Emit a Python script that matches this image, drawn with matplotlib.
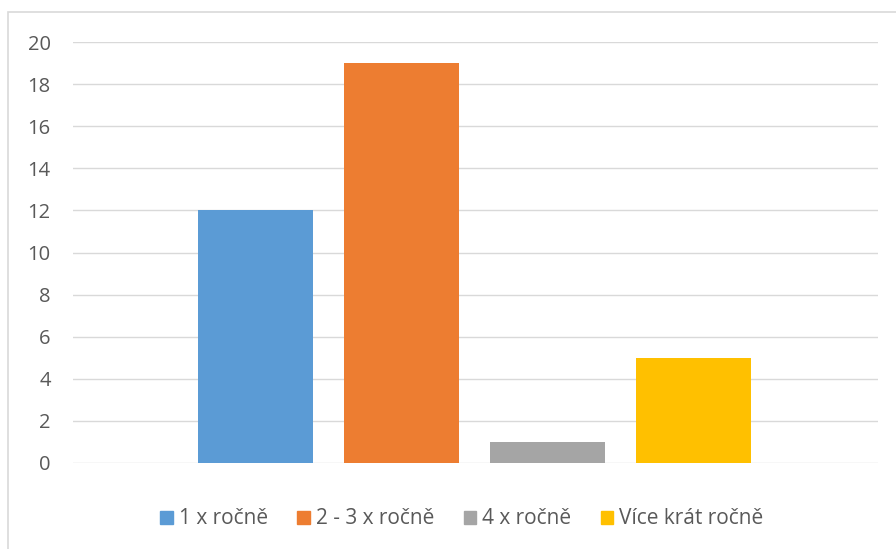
import matplotlib.pyplot as plt
from matplotlib.patches import Rectangle, Patch

labels = ['1 x ročně', '2 - 3 x ročně', '4 x ročně', 'Více krát ročně']
values = [12, 19, 1, 5]
colors = ['#5B9BD5', '#ED7D31', '#A5A5A5', '#FFC000']
yticks = [0, 2, 4, 6, 8, 10, 12, 14, 16, 18, 20]

plt.rcParams['font.family'] = ['Open Sans', 'DejaVu Sans']

fig = plt.figure(figsize=(8.96, 5.49), dpi=100)
ax = fig.add_axes([73/896, 1 - 463/549, 805/896, 421/549])

# chart frame
fig.patches.append(Rectangle((8/896, -0.05), 1.0, 1 - 12/549 + 0.05,
                             transform=fig.transFigure, fill=False,
                             edgecolor='#D9D9D9', linewidth=1.2))

xs = range(len(values))
ax.bar(xs, values, width=115/146, color=colors, zorder=3)

ax.set_xlim(-1.25, 4.264)
ax.set_ylim(0, 20)
ax.set_yticks(yticks)
ax.set_xticks([])
ax.grid(axis='y', color='#D9D9D9', linewidth=1, zorder=0)
for s in ax.spines.values():
    s.set_visible(False)
ax.tick_params(axis='y', length=0, pad=16, labelsize=14.5, labelcolor='#595959')

handles = [Patch(color=c, label=l) for c, l in zip(colors, labels)]
leg = fig.legend(handles=handles, loc='center', bbox_to_anchor=(462/896, 1 - 519/549),
                 ncol=4, frameon=False, fontsize=15, handlelength=0.6, handleheight=0.6,
                 handletextpad=0.3, columnspacing=1.4)
for t in leg.get_texts():
    t.set_color('#595959')

fig.savefig('out.png', dpi=100)
